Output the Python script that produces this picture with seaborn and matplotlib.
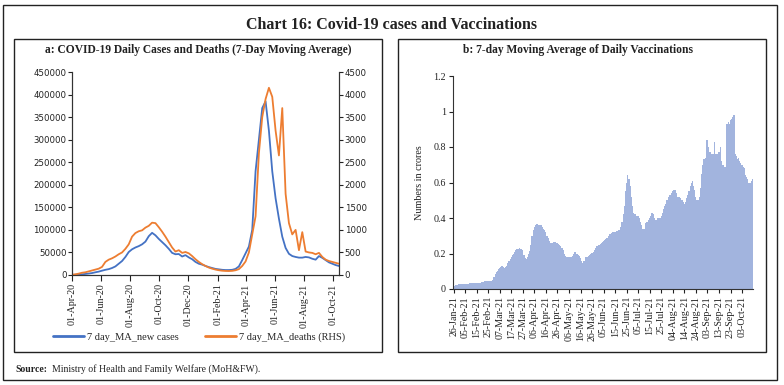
import numpy as np
import pandas as pd
import matplotlib
matplotlib.use('Agg')
import matplotlib.pyplot as plt
import seaborn as sns
from matplotlib.patches import Rectangle

sns.set_theme(style='white')
plt.rcParams['font.family'] = ['Liberation Serif', 'DejaVu Sans']

# ---------------- data ----------------
case_start = '2020-04-01'   # weekly samples of the 7-day moving averages
cases = [300, 700, 1100, 1500, 2300, 3200, 4300, 6000, 7500, 9600,
         11500, 13000, 15500, 19000, 25000, 31000, 40000, 51000, 57000, 61000,
         64000, 68000, 74000, 86000, 93500, 88000, 80000, 73000, 66000, 58000,
         49000, 46000, 46500, 41000, 44000, 39000, 35000, 29000, 25000, 23000,
         20000, 17500, 15500, 13500, 12500, 11500, 11000, 11000, 11500, 13500,
         19000, 33000, 48000, 63000, 100000, 230000, 300000, 370000, 385000, 320000,
         230000, 170000, 125000, 85000, 60000, 47000, 42000, 40000, 38500, 38500,
         40000, 39000, 36000, 34000, 42000, 38000, 33000, 28000, 25000, 22000, 20000]
deaths = [5, 15, 30, 50, 60, 80, 100, 120, 140, 180,
          290, 340, 370, 410, 460, 500, 580, 680, 850, 930,
          970, 990, 1050, 1090, 1160, 1150, 1060, 960, 850, 730,
          610, 520, 550, 490, 510, 480, 420, 350, 290, 240,
          200, 165, 140, 120, 105, 95, 90, 88, 92, 105,
          130, 200, 300, 500, 900, 1300, 2700, 3500, 3900, 4150,
          3950, 3200, 2650, 3700, 1800, 1150, 900, 1000, 550, 950,
          520, 500, 490, 460, 490, 400, 340, 310, 290, 270, 250]
case_ticks = ['2020-04-01', '2020-06-01', '2020-08-01', '2020-10-01', '2020-12-01',
              '2021-02-01', '2021-04-01', '2021-06-01', '2021-08-01', '2021-10-01']
case_tick_labels = ['01-Apr-20', '01-Jun-20', '01-Aug-20', '01-Oct-20', '01-Dec-20',
                    '01-Feb-21', '01-Apr-21', '01-Jun-21', '01-Aug-21', '01-Oct-21']
case_yticks = [0, 50000, 100000, 150000, 200000, 250000, 300000, 350000, 400000, 450000]
death_yticks = [0, 500, 1000, 1500, 2000, 2500, 3000, 3500, 4000, 4500]

vacc = [0.015, 0.017, 0.02, 0.025, 0.028, 0.028, 0.028, 0.027, 0.027, 0.027,
        0.026, 0.027, 0.028, 0.03, 0.033, 0.034, 0.034, 0.033, 0.033, 0.034,
        0.034, 0.035, 0.035, 0.036, 0.038, 0.04, 0.042, 0.043, 0.044, 0.044,
        0.045, 0.045, 0.044, 0.045, 0.05, 0.065, 0.085, 0.095, 0.1, 0.115,
        0.12, 0.125, 0.13, 0.125, 0.12, 0.125, 0.13, 0.145, 0.155, 0.17,
        0.18, 0.19, 0.2, 0.21, 0.22, 0.225, 0.228, 0.23, 0.228, 0.225,
        0.22, 0.19, 0.175, 0.17, 0.18, 0.2, 0.215, 0.25, 0.3, 0.33,
        0.35, 0.36, 0.365, 0.365, 0.363, 0.36, 0.36, 0.35, 0.34, 0.33,
        0.32, 0.3, 0.29, 0.27, 0.26, 0.26, 0.26, 0.262, 0.262, 0.26,
        0.258, 0.255, 0.25, 0.24, 0.23, 0.22, 0.2, 0.185, 0.18, 0.178,
        0.178, 0.18, 0.18, 0.185, 0.2, 0.21, 0.208, 0.2, 0.19, 0.185,
        0.175, 0.16, 0.145, 0.16, 0.18, 0.182, 0.18, 0.185, 0.19, 0.2,
        0.205, 0.21, 0.22, 0.23, 0.24, 0.245, 0.25, 0.255, 0.26, 0.265,
        0.27, 0.275, 0.28, 0.29, 0.3, 0.31, 0.31, 0.315, 0.32, 0.32,
        0.322, 0.325, 0.325, 0.33, 0.33, 0.35, 0.38, 0.42, 0.47, 0.55,
        0.6, 0.64, 0.62, 0.58, 0.52, 0.47, 0.43, 0.42, 0.42, 0.41,
        0.41, 0.4, 0.38, 0.36, 0.34, 0.34, 0.37, 0.38, 0.38, 0.39,
        0.4, 0.41, 0.43, 0.42, 0.4, 0.39, 0.39, 0.4, 0.4, 0.4,
        0.41, 0.43, 0.45, 0.47, 0.48, 0.5, 0.52, 0.53, 0.53, 0.54,
        0.55, 0.56, 0.56, 0.54, 0.52, 0.52, 0.52, 0.51, 0.5, 0.49,
        0.48, 0.49, 0.51, 0.53, 0.55, 0.58, 0.6, 0.61, 0.58, 0.56,
        0.52, 0.5, 0.5, 0.52, 0.57, 0.65, 0.7, 0.73, 0.74, 0.84,
        0.84, 0.8, 0.77, 0.77, 0.76, 0.76, 0.83, 0.76, 0.76, 0.76,
        0.77, 0.8, 0.72, 0.7, 0.7, 0.69, 0.69, 0.93, 0.94, 0.93,
        0.95, 0.96, 0.97, 0.98, 0.76, 0.75, 0.73, 0.74, 0.72, 0.71,
        0.7, 0.69, 0.68, 0.64, 0.63, 0.62, 0.6, 0.6, 0.61, 0.62]
vacc_tick_labels = ['26-Jan-21', '05-Feb-21', '15-Feb-21', '25-Feb-21', '07-Mar-21',
                    '17-Mar-21', '27-Mar-21', '06-Apr-21', '16-Apr-21', '26-Apr-21',
                    '06-May-21', '16-May-21', '26-May-21', '05-Jun-21', '15-Jun-21',
                    '25-Jun-21', '05-Jul-21', '15-Jul-21', '25-Jul-21', '04-Aug-21',
                    '14-Aug-21', '24-Aug-21', '03-Sep-21', '13-Sep-21', '23-Sep-21',
                    '03-Oct-21']
vacc_yticks = [0, 0.2, 0.4, 0.6, 0.8, 1.0, 1.2]
vacc_ytick_labels = ['0', '0.2', '0.4', '0.6', '0.8', '1', '1.2']

BLUE = '#4472C4'
ORANGE = '#ED7D31'
BAR = '#a2b4de'
TXT = '#222222'
SPINE = '#333333'

W, H = 784, 385
fig = plt.figure(figsize=(W / 100, H / 100), dpi=100)


def fx(px):
    return px / W


def fy(py):
    return 1 - py / H


# boxes
fig.add_artist(Rectangle((fx(3), fy(380)), fx(774), 375 / H, transform=fig.transFigure,
                         fill=False, lw=1.0, ec=TXT))
fig.add_artist(Rectangle((fx(14), fy(352)), fx(368), 313 / H, transform=fig.transFigure,
                         fill=False, lw=1.0, ec=TXT))
fig.add_artist(Rectangle((fx(398), fy(352)), fx(368), 313 / H, transform=fig.transFigure,
                         fill=False, lw=1.0, ec=TXT))

fig.text(fx(391), fy(25), 'Chart 16: Covid-19 cases and Vaccinations', ha='center', va='center',
         fontsize=11.5, weight='bold', color=TXT)
fig.text(fx(198), fy(50), 'a: COVID-19 Daily Cases and Deaths (7-Day Moving Average)',
         ha='center', va='center', fontsize=8.3, weight='bold', color=TXT)
fig.text(fx(578), fy(50), 'b: 7-day Moving Average of Daily Vaccinations',
         ha='center', va='center', fontsize=8.3, weight='bold', color=TXT)
fig.text(fx(15), fy(369), 'Source:', ha='left', va='center', fontsize=7, weight='bold', color=TXT)
fig.text(fx(52), fy(369), 'Ministry of Health and Family Welfare (MoH&FW).', ha='left',
         va='center', fontsize=7, color=TXT)

# ---------------- panel a ----------------
ax1 = fig.add_axes([fx(72), fy(275), fx(267), 203 / H])
df = pd.DataFrame({'date': pd.date_range(case_start, periods=len(cases), freq='7D'),
                   'cases': cases, 'deaths': deaths})
sns.lineplot(data=df, x='date', y='cases', ax=ax1, color=BLUE, lw=1.3, legend=False)
ax1b = ax1.twinx()
sns.lineplot(data=df, x='date', y='deaths', ax=ax1b, color=ORANGE, lw=1.3, legend=False)
ax1.set_xlim(df['date'].iloc[0], df['date'].iloc[-1])
ax1.set_ylim(0, 450000)
ax1b.set_ylim(0, 4500)
ax1.set_yticks(case_yticks)
ax1.set_yticklabels([str(v) for v in case_yticks])
ax1b.set_yticks(death_yticks)
ax1b.set_yticklabels([str(v) for v in death_yticks])
ax1.set_xticks(pd.to_datetime(case_ticks))
ax1.set_xticklabels(case_tick_labels, rotation=90)
for a in (ax1, ax1b):
    a.set_xlabel('')
    a.set_ylabel('')
    a.spines['top'].set_visible(False)
    for s in a.spines.values():
        s.set_color(SPINE)
        s.set_linewidth(0.8)
ax1.tick_params(axis='y', which='both', left=True, direction='out', length=3, width=0.8,
                pad=1, labelsize=6.2, colors=TXT)
ax1b.tick_params(axis='y', which='both', right=True, direction='out', length=3, width=0.8,
                 pad=1, labelsize=6.2, colors=TXT)
ax1.tick_params(axis='x', bottom=True, direction='out', length=4, width=0.8, pad=2,
                labelsize=7.2, colors=TXT)
for lab in ax1.get_yticklabels() + ax1b.get_yticklabels():
    lab.set_fontfamily('DejaVu Sans')

handles = [plt.Line2D([], [], color=BLUE, lw=2), plt.Line2D([], [], color=ORANGE, lw=2)]
fig.legend(handles, ['7 day_MA_new cases', '7 day_MA_deaths (RHS)'], loc='center',
           bbox_to_anchor=(fx(199), fy(337)), ncol=2, frameon=False, fontsize=7.5,
           handlelength=3.0, handletextpad=0.3, columnspacing=2.5)

# ---------------- panel b ----------------
ax2 = fig.add_axes([fx(453), fy(289), fx(300), 213 / H])
vdf = pd.DataFrame({'day': np.arange(len(vacc)), 'value': vacc})
sns.barplot(data=vdf, x='day', y='value', ax=ax2, color=BAR, width=1.0, linewidth=0,
            saturation=1)
ax2.set_xlim(-0.5, len(vacc) - 0.5)
ax2.set_ylim(0, 1.2)
ax2.set_yticks(vacc_yticks)
ax2.set_yticklabels(vacc_ytick_labels)
ax2.set_xticks(np.arange(0, len(vacc), 10))
ax2.set_xticklabels(vacc_tick_labels, rotation=90)
ax2.set_xlabel('')
ax2.set_ylabel('Numbers in crores', fontsize=7.3, color=TXT, labelpad=7)
for side in ('top', 'right'):
    ax2.spines[side].set_visible(False)
for side in ('left', 'bottom'):
    ax2.spines[side].set_color(SPINE)
    ax2.spines[side].set_linewidth(0.8)
ax2.tick_params(axis='y', left=True, direction='out', length=3, width=0.8, pad=2,
                labelsize=7.2, colors=TXT)
ax2.tick_params(axis='x', bottom=True, direction='out', length=3, width=0.8, pad=2,
                labelsize=7.2, colors=TXT)

fig.savefig('out.png', dpi=100)
